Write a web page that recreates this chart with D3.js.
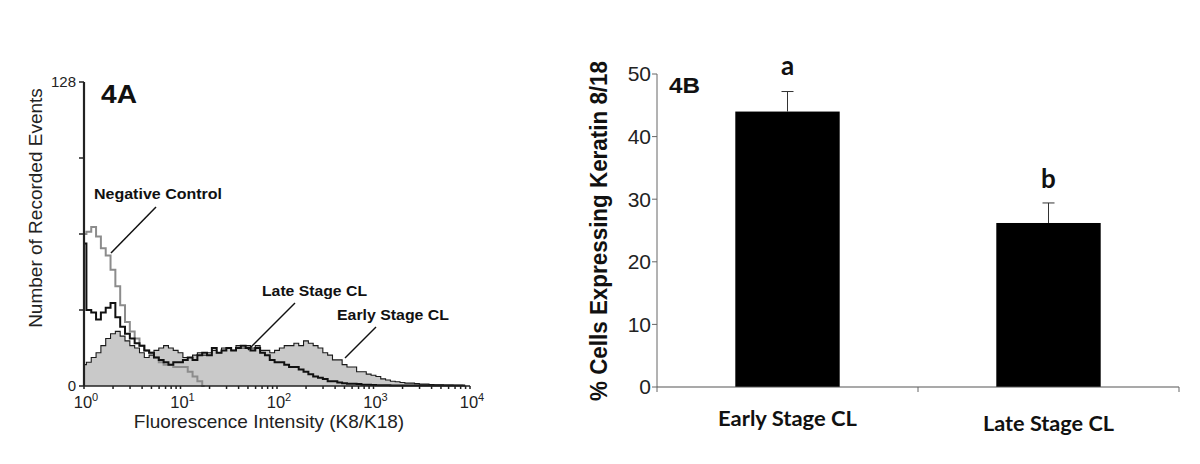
<!DOCTYPE html>
<html>
<head>
<meta charset="utf-8">
<script src="https://cdn.jsdelivr.net/npm/d3@7"></script>
<style>
  body { margin: 0; background: #fff; }
  svg { display: block; }
</style>
</head>
<body>
<svg id="chart" width="1200" height="464"></svg>
<script>
// ---- Panel 4A: flow cytometry histograms (bins every 0.05 decade from 10^0) ----
var binStep = 0.05;
var earlyCounts = [9, 10, 12, 14, 17, 20, 22, 23, 21, 19, 17, 16, 14, 12, 13, 15, 16, 17, 16, 15,
  14, 12, 12, 13, 14, 13, 14, 15, 14, 16, 16, 15, 17, 16, 17, 16, 17, 15, 15, 14,
  15, 16, 17, 17, 18, 17, 19, 18, 17, 16, 14, 13, 11, 11, 9, 8, 8, 6, 6, 5,
  4.5, 4, 3, 2.5, 2, 1.8, 1.5, 1.2, 1.2, 1, 0.8, 0.8, 0.6, 0.5, 0.5, 0.4, 0.4, 0.3, 0.3, 0.2];
var lateCounts = [60, 32, 31, 28, 31, 33, 35, 29, 25, 22, 20, 18, 17, 15, 14, 12, 11, 10, 9, 10,
  10, 11, 12, 11, 13, 14, 13, 16, 14, 15, 16, 15, 16, 17, 16, 15, 16, 14, 13, 11,
  10, 10, 9, 8, 8, 7, 6, 5, 4, 3.5, 3, 2, 2, 1.5, 1.2, 1, 1, 0.8, 0.5, 0.5,
  0.4, 0.3, 0.3, 0.3, 0.2, 0.2, 0.2, 0.2, 0.2, 0.2, 0.2, 0.2, 0.2, 0.2, 0.2, 0.2, 0.2, 0.2, 0.2, 0.2];
var negCounts = [64, 65, 67, 63, 58, 55, 49, 42, 34, 27, 23, 20, 17, 15, 14, 12, 10, 9, 9, 8,
  8, 8, 6, 4, 2, 0];
var xDecades = [0, 1, 2, 3, 4];
var yTicksA = [0, 32, 64, 96, 128];
var yLabelsA = [0, 128];

// ---- Panel 4B: bar chart ----
var stages = ["Early Stage CL", "Late Stage CL"];
var pctValues = [44, 26.2];
var pctErrors = [3.2, 3.2];
var sigLetters = ["a", "b"];
var yTicksB = [0, 10, 20, 30, 40, 50];

var svg = d3.select("#chart");

// ======== Panel A ========
var xA = d3.scaleLog().domain([1, 10000]).range([84, 470]);
var yA = d3.scaleLinear().domain([0, 128]).range([386, 82]);

function toPoints(arr) {
  return arr.map(function (c, i) { return { x: Math.pow(10, i * binStep), c: c }; });
}

var area = d3.area().curve(d3.curveStep)
  .x(function (d) { return xA(d.x); })
  .y0(yA(0))
  .y1(function (d) { return yA(d.c); });
var line = d3.line().curve(d3.curveStep)
  .x(function (d) { return xA(d.x); })
  .y(function (d) { return yA(d.c); });

var gA = svg.append("g");

gA.append("path").datum(toPoints(earlyCounts))
  .attr("d", area).attr("fill", "#c9c9c9");
gA.append("path").datum(toPoints(earlyCounts))
  .attr("d", line).attr("fill", "none").attr("stroke", "#1a1a1a").attr("stroke-width", 1.1);
gA.append("path").datum(toPoints(negCounts))
  .attr("d", line).attr("fill", "none").attr("stroke", "#8c8c8c").attr("stroke-width", 2);
gA.append("path").datum(toPoints(lateCounts))
  .attr("d", line).attr("fill", "none").attr("stroke", "#111").attr("stroke-width", 2);

// x axis with minor ticks
gA.append("line").attr("x1", xA(1)).attr("x2", xA(10000)).attr("y1", yA(0)).attr("y2", yA(0))
  .attr("stroke", "#222").attr("stroke-width", 1.5);
var minor = [];
xDecades.slice(0, 4).forEach(function (k) {
  for (var m = 1; m < 10; m++) minor.push(m * Math.pow(10, k));
});
minor.push(10000);
gA.selectAll(".mtick").data(minor).enter().append("line")
  .attr("x1", function (d) { return xA(d); }).attr("x2", function (d) { return xA(d); })
  .attr("y1", yA(0)).attr("y2", yA(0) + 3)
  .attr("stroke", "#222").attr("stroke-width", 1.5);

var xl = gA.selectAll(".xl").data(xDecades).enter().append("text")
  .attr("x", function (d) { return xA(Math.pow(10, d)) + 2; })
  .attr("y", 408)
  .attr("text-anchor", "middle")
  .attr("font-family", "Arial, 'Liberation Sans', sans-serif")
  .attr("font-size", 16.5).attr("fill", "#222");
xl.append("tspan").text("10");
xl.append("tspan").attr("dy", -7).attr("font-size", 11).text(function (d) { return d; });

// y axis
gA.append("line").attr("x1", 84).attr("x2", 84).attr("y1", yA(128)).attr("y2", yA(0))
  .attr("stroke", "#222").attr("stroke-width", 2.2);
gA.selectAll(".yt").data(yTicksA).enter().append("line")
  .attr("x1", 79).attr("x2", 84)
  .attr("y1", function (d) { return yA(d); }).attr("y2", function (d) { return yA(d); })
  .attr("stroke", "#222").attr("stroke-width", 1.5);
gA.selectAll(".yl").data(yLabelsA).enter().append("text")
  .attr("x", 76).attr("y", function (d) { return yA(d); }).attr("dy", "0.35em")
  .attr("text-anchor", "end")
  .attr("font-family", "Arial, 'Liberation Sans', sans-serif")
  .attr("font-size", 15).attr("fill", "#222")
  .text(function (d) { return d; });

gA.append("text")
  .attr("x", 269).attr("y", 428).attr("text-anchor", "middle")
  .attr("font-family", "Arial, 'Liberation Sans', sans-serif")
  .attr("font-size", 19).attr("fill", "#222")
  .text("Fluorescence Intensity (K8/K18)");
gA.append("text")
  .attr("transform", "translate(42,208) rotate(-90)").attr("text-anchor", "middle")
  .attr("font-family", "Arial, 'Liberation Sans', sans-serif")
  .attr("font-size", 19).attr("fill", "#222")
  .text("Number of Recorded Events");

gA.append("text").attr("x", 101).attr("y", 103)
  .attr("font-family", "Arial, 'Liberation Sans', sans-serif").attr("font-weight", "bold")
  .attr("font-size", 25).attr("textLength", 36).attr("lengthAdjust", "spacingAndGlyphs")
  .attr("fill", "#111").text("4A");

// curve annotations
var notes = [
  { t: "Negative Control", x: 94, y: 199, w: 128, lx1: 156, ly1: 207, lx2: 111, ly2: 253 },
  { t: "Late Stage CL", x: 262, y: 296, w: 105, lx1: 295, ly1: 303, lx2: 248, ly2: 350 },
  { t: "Early Stage CL", x: 337, y: 320, w: 112, lx1: 376, ly1: 327, lx2: 345, ly2: 358 }
];
notes.forEach(function (n) {
  gA.append("text").attr("x", n.x).attr("y", n.y)
    .attr("font-family", "Arial, 'Liberation Sans', sans-serif").attr("font-weight", "bold")
    .attr("font-size", 15.5).attr("textLength", n.w).attr("lengthAdjust", "spacingAndGlyphs")
    .attr("fill", "#111").text(n.t);
  gA.append("line").attr("x1", n.lx1).attr("y1", n.ly1).attr("x2", n.lx2).attr("y2", n.ly2)
    .attr("stroke", "#111").attr("stroke-width", 1.5);
});

// ======== Panel B ========
var xB = d3.scaleBand().domain(stages).range([657, 1179]).padding(0);
var yB = d3.scaleLinear().domain([0, 50]).range([387, 74]);
var barW = xB.bandwidth() * 0.4;
var gB = svg.append("g");

gB.selectAll(".bar").data(stages).enter().append("rect")
  .attr("x", function (d) { return xB(d) + xB.bandwidth() / 2 - barW / 2; })
  .attr("width", barW)
  .attr("y", function (d, i) { return yB(pctValues[i]); })
  .attr("height", function (d, i) { return yB(0) - yB(pctValues[i]); })
  .attr("fill", "#000");

// upper error whiskers
stages.forEach(function (s, i) {
  var cx = xB(s) + xB.bandwidth() / 2;
  var top = yB(pctValues[i] + pctErrors[i]);
  gB.append("line").attr("x1", cx).attr("x2", cx).attr("y1", yB(pctValues[i])).attr("y2", top)
    .attr("stroke", "#333").attr("stroke-width", 1);
  gB.append("line").attr("x1", cx - 6).attr("x2", cx + 6).attr("y1", top).attr("y2", top)
    .attr("stroke", "#333").attr("stroke-width", 1);
  gB.append("text").attr("x", cx).attr("y", top - (i === 0 ? 17 : 15))
    .attr("text-anchor", "middle")
    .attr("font-family", "Lato, 'Open Sans', sans-serif").attr("font-weight", "bold")
    .attr("font-size", 26).attr("fill", "#111").text(sigLetters[i]);
});

// axes
gB.append("line").attr("x1", 657).attr("x2", 657).attr("y1", yB(50)).attr("y2", yB(0))
  .attr("stroke", "#666").attr("stroke-width", 1);
gB.append("line").attr("x1", 657).attr("x2", 1179).attr("y1", yB(0)).attr("y2", yB(0))
  .attr("stroke", "#555").attr("stroke-width", 1.2);
gB.selectAll(".ytb").data(yTicksB).enter().append("line")
  .attr("x1", 652).attr("x2", 657)
  .attr("y1", function (d) { return yB(d); }).attr("y2", function (d) { return yB(d); })
  .attr("stroke", "#666").attr("stroke-width", 1);
var catEdges = stages.map(function (s) { return xB(s); }).concat([xB.range()[1]]);
gB.selectAll(".xtb").data(catEdges).enter().append("line")
  .attr("x1", function (d) { return d; }).attr("x2", function (d) { return d; })
  .attr("y1", yB(0)).attr("y2", yB(0) + 5)
  .attr("stroke", "#666").attr("stroke-width", 1);
gB.selectAll(".ylb").data(yTicksB).enter().append("text")
  .attr("x", 651).attr("y", function (d) { return yB(d); }).attr("dy", "0.35em")
  .attr("text-anchor", "end")
  .attr("font-family", "Arial, 'Liberation Sans', sans-serif")
  .attr("font-size", 21).attr("fill", "#222")
  .text(function (d) { return d; });

var catLabelY = [426, 431];
var catLabelW = [139, 131];
gB.selectAll(".xlb").data(stages).enter().append("text")
  .attr("x", function (d) { return xB(d) + xB.bandwidth() / 2; })
  .attr("y", function (d, i) { return catLabelY[i]; })
  .attr("text-anchor", "middle")
  .attr("font-family", "Lato, 'Open Sans', sans-serif").attr("font-weight", "bold")
  .attr("font-size", 20.5)
  .attr("textLength", function (d, i) { return catLabelW[i]; }).attr("lengthAdjust", "spacingAndGlyphs")
  .attr("fill", "#111")
  .text(function (d) { return d; });

gB.append("text")
  .attr("transform", "translate(607,231) rotate(-90)").attr("text-anchor", "middle")
  .attr("font-family", "Arial, 'Liberation Sans', sans-serif").attr("font-weight", "bold")
  .attr("font-size", 23).attr("textLength", 340).attr("lengthAdjust", "spacingAndGlyphs")
  .attr("fill", "#111")
  .text("% Cells Expressing Keratin 8/18");

gB.append("text").attr("x", 669).attr("y", 93)
  .attr("font-family", "Arial, 'Liberation Sans', sans-serif").attr("font-weight", "bold")
  .attr("font-size", 22).attr("textLength", 31).attr("lengthAdjust", "spacingAndGlyphs")
  .attr("fill", "#111").text("4B");
</script>
</body>
</html>
